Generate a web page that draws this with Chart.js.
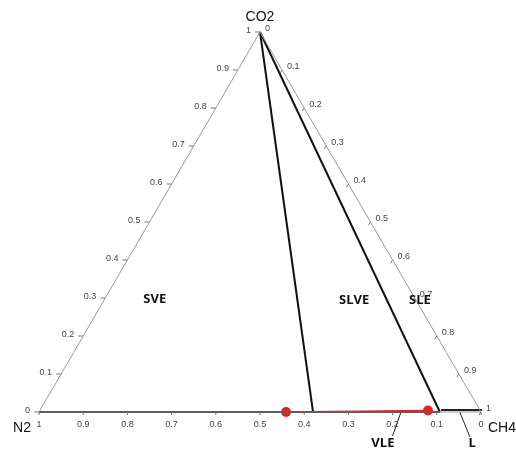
<!DOCTYPE html>
<html>
<head>
<meta charset="utf-8">
<script src="https://cdn.jsdelivr.net/npm/chart.js@4/dist/chart.umd.min.js"></script>
<style>
    body { margin: 0; background: #fff; }
    #wrap { width: 516px; height: 450px; position: relative; }
</style>
</head>
<body>
<div id="wrap"><canvas id="ternary"></canvas></div>
<script>
// axis ticks (mole fraction)
const tickValues = [0, 0.1, 0.2, 0.3, 0.4, 0.5, 0.6, 0.7, 0.8, 0.9, 1];
const tickText = ['0', '0.1', '0.2', '0.3', '0.4', '0.5', '0.6', '0.7', '0.8', '0.9', '1'];
const vertexNames = ['N2', 'CO2', 'CH4'];

// tie lines from pure CO2 down to the N2-CH4 edge (CH4 fraction at the edge)
const tieLineCH4 = [0.62, 0.907];
// thin liquid band near the CH4 corner
const liquidBandCH4 = [0.907, 1];
const liquidBandCO2 = [0.005, 0.005];
// red VLE segment (N2 and CO2 fractions of its end points)
const redN2 = [0.441, 0.118];
const redCO2 = [0, 0.004];
const regionNames = ['SVE', 'SLVE', 'SLE', 'VLE', 'L'];

// ternary -> plane (x along N2-CH4 edge, y = CO2 fraction)
function toXY(n2, co2, ch4) {
    return { x: ch4 + co2 / 2, y: co2 };
}

const datasets = [];

// triangle sides
datasets.push({
    data: [toXY(1, 0, 0), toXY(0, 1, 0), toXY(0, 0, 1), toXY(1, 0, 0)],
    borderColor: '#9a9a9a', borderWidth: 1
});
// bottom thick edge
datasets.push({
    data: [toXY(1, 0, 0), toXY(1 - liquidBandCH4[0], 0, liquidBandCH4[0])],
    borderColor: '#222', borderWidth: 2
});
datasets.push({
    data: liquidBandCH4.map((c, i) => toXY(1 - c - liquidBandCO2[i], liquidBandCO2[i], c)),
    borderColor: '#222', borderWidth: 2
});
// tie lines
tieLineCH4.forEach(function (c) {
    datasets.push({
        data: [toXY(0, 1, 0), toXY(1 - c, 0, c)],
        borderColor: '#111', borderWidth: 2
    });
});
// red VLE line with end points
datasets.push({
    data: redN2.map((n, i) => toXY(n, redCO2[i], 1 - n - redCO2[i])),
    borderColor: '#e02525', borderWidth: 1.5,
    pointRadius: 5, pointBackgroundColor: '#ee1c1c', pointBorderWidth: 0
});
// label pointers (VLE, L)
datasets.push({ data: [{ x: 0.819, y: 0 }, { x: 0.800, y: -0.063 }], borderColor: '#222', borderWidth: 1 });
datasets.push({ data: [{ x: 0.952, y: 0 }, { x: 0.975, y: -0.066 }], borderColor: '#222', borderWidth: 1 });

datasets.forEach(function (d) {
    d.showLine = true;
    d.fill = false;
    d.clip = false;
    if (d.pointRadius === undefined) d.pointRadius = 0;
});

// where the region names sit (plane coordinates)
const labelPos = [
    { x: 0.262, y: 0.297 }, { x: 0.713, y: 0.295 }, { x: 0.862, y: 0.295 },
    { x: 0.778, y: -0.082 }, { x: 0.980, y: -0.082 }
];

const ternaryText = {
    id: 'ternaryText',
    afterDatasetsDraw(chart) {
        const ctx = chart.ctx;
        const xs = chart.scales.x, ys = chart.scales.y;
        const px = p => ({ x: xs.getPixelForValue(p.x), y: ys.getPixelForValue(p.y) });
        ctx.save();
        ctx.strokeStyle = '#777';
        ctx.lineWidth = 1;
        ctx.fillStyle = '#444';
        ctx.font = '9px "Liberation Sans", Arial, sans-serif';
        ctx.textBaseline = 'middle';

        tickValues.forEach(function (v, i) {
            // left axis: CO2
            let p = px(toXY(1 - v, v, 0));
            ctx.beginPath(); ctx.moveTo(p.x, p.y); ctx.lineTo(p.x - 5, p.y); ctx.stroke();
            ctx.textAlign = 'right';
            ctx.fillText(tickText[i], p.x - 9, p.y - 1);

            // right axis: CH4
            p = px(toXY(0, 1 - v, v));
            ctx.beginPath(); ctx.moveTo(p.x, p.y); ctx.lineTo(p.x - 2, p.y + 3); ctx.stroke();
            ctx.textAlign = 'left';
            ctx.fillText(tickText[i], p.x + 5, p.y - 3);

            // bottom axis: N2
            p = px(toXY(v, 0, 1 - v));
            ctx.beginPath(); ctx.moveTo(p.x, p.y); ctx.lineTo(p.x, p.y + 3); ctx.stroke();
            ctx.textAlign = 'center';
            ctx.fillText(tickText[i], p.x, p.y + 13);
        });

        // vertex names
        ctx.fillStyle = '#111';
        ctx.font = '14px "Liberation Sans", Arial, sans-serif';
        let p = px(toXY(1, 0, 0));
        ctx.textAlign = 'right';
        ctx.fillText(vertexNames[0], p.x - 8, p.y + 16);
        p = px(toXY(0, 1, 0));
        ctx.textAlign = 'center';
        ctx.fillText(vertexNames[1], p.x, p.y - 15);
        p = px(toXY(0, 0, 1));
        ctx.textAlign = 'left';
        ctx.fillText(vertexNames[2], p.x + 7, p.y + 16);

        // region names
        ctx.font = 'bold 13px "Open Sans", sans-serif';
        ctx.textAlign = 'center';
        regionNames.forEach(function (name, i) {
            const q = px(labelPos[i]);
            ctx.fillText(name, q.x, q.y);
        });
        ctx.restore();
    }
};

new Chart(document.getElementById('ternary'), {
    type: 'scatter',
    data: { datasets: datasets },
    options: {
        responsive: true,
        maintainAspectRatio: false,
        animation: false,
        layout: { padding: { left: 39, right: 35, top: 32, bottom: 38 } },
        plugins: { legend: { display: false }, tooltip: { enabled: false } },
        scales: {
            x: { type: 'linear', min: 0, max: 1, display: false },
            y: { type: 'linear', min: 0, max: 1, display: false }
        }
    },
    plugins: [ternaryText]
});
</script>
</body>
</html>
